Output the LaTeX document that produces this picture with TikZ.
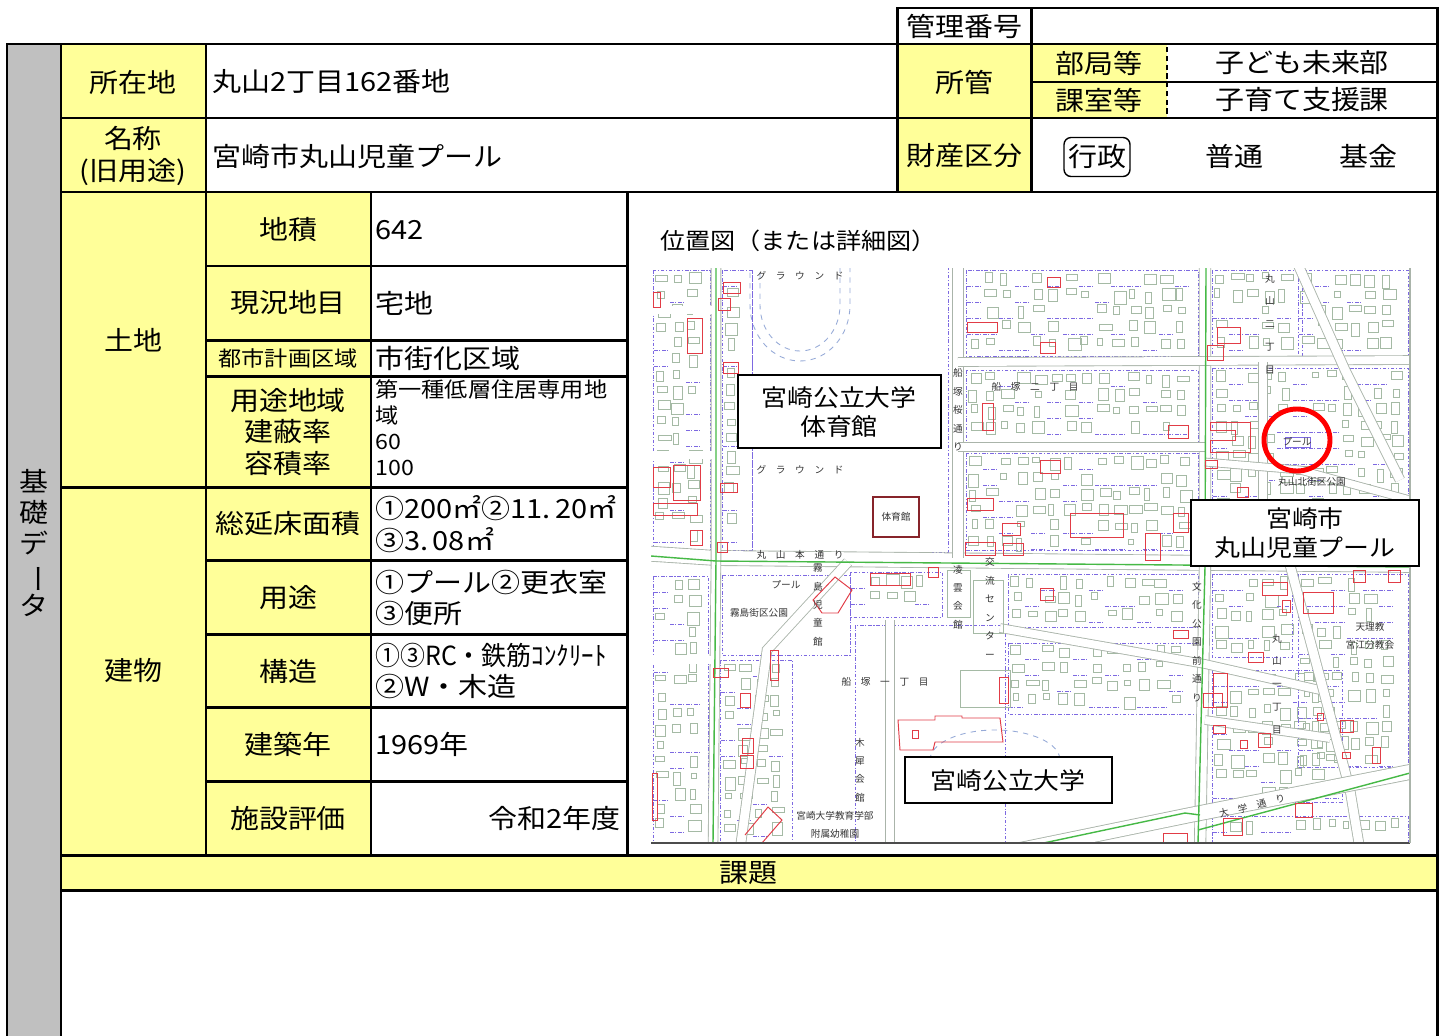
\documentclass[tikz,border=0pt]{standalone}
\usepackage{fontspec}
\setmainfont{Noto Sans CJK JP}[FakeStretch=1.1]
\newfontfamily\mapfont{Noto Sans CJK JP}
\usepackage{tikz}
\usetikzlibrary{calc}
\definecolor{cellyellow}{RGB}{255,255,153}
\definecolor{sidegrey}{RGB}{192,192,192}
\definecolor{housegrey}{RGB}{165,186,165}
\definecolor{roadgrey}{RGB}{170,180,170}
\definecolor{lotpurple}{RGB}{125,105,225}
\definecolor{bldred}{RGB}{225,60,70}
\definecolor{mapgreen}{RGB}{70,185,70}
\definecolor{trackblue}{RGB}{150,170,215}
\tikzset{
  border/.style={line width=1.7pt},
  big/.style={font=\fontsize{15}{18}\selectfont, inner sep=0pt},
  small/.style={font=\fontsize{12}{14.8}\selectfont, inner sep=0pt},
  maptxt/.style={font=\mapfont\fontsize{5.5}{10.5}\selectfont, text=black!80, inner sep=0pt, align=center},
  house/.style={draw=housegrey, line width=0.4pt},
  lot/.style={draw=lotpurple, line width=0.45pt, dash pattern=on 2pt off 1pt on 0.6pt off 1pt},
  road/.style={draw=roadgrey, line width=0.5pt, double=white, double distance=#1},
  road/.default=5pt,
  green/.style={draw=mapgreen, line width=0.8pt},
  redbld/.style={draw=bldred, line width=0.55pt},
  track/.style={draw=trackblue, line width=0.5pt, dashed},
  mapbox/.style={draw=black, line width=1.2pt, fill=white},
  boxtxt/.style={font=\fontsize{13.4}{16.4}\selectfont, inner sep=0pt, align=center}
}
% random block of houses
\newcommand\houses[4]{%
  \draw[lot] (#1-2,#2-2) rectangle (#3+2,#4+2);
  \pgfmathtruncatemacro\mNx{max(0,(#3-#1-12)/16)}%
  \pgfmathtruncatemacro\mNy{max(0,(#4-#2-12)/16)}%
  \foreach \i in {0,...,\mNx}{%
    \foreach \j in {0,...,\mNy}{%
      \pgfmathsetmacro\mHr{rnd}%
      \ifdim\mHr pt>0.28pt
        \pgfmathsetmacro\mHx{#1+16*\i+4*rnd}%
        \pgfmathsetmacro\mHy{#2+16*\j+4*rnd}%
        \pgfmathsetmacro\mHw{5+8*rnd}%
        \pgfmathsetmacro\mHh{5+8*rnd}%
        \draw[house] (\mHx,\mHy) rectangle ++(\mHw,\mHh);
      \fi
      \ifdim\mHr pt<0.3pt
        \draw[lot] (#1+16*\i-1,#2+16*\j+14) -- ++(16,0);
      \fi}}}
\begin{document}
\begin{tikzpicture}[x=0.02cm, y=-0.02cm]
        \useasboundingbox (0,0) rectangle (1444,1035);
        \pgfmathsetseed{21}
        %FILL
        \fill[sidegrey] (7,44) rectangle (61,1040);
        \fill[cellyellow] (61,44) rectangle (206,855);
        \fill[cellyellow] (206,192) rectangle (371,855);
        \fill[cellyellow] (897,44) rectangle (1031,192);
        \fill[cellyellow] (1031,44) rectangle (1167,118);
        \fill[cellyellow] (61,855) rectangle (1437,890);
        %MAP
        \begin{scope}
          \clip (651,268) rectangle (1410,843);
          %HOUSES
          \houses{655}{272}{708}{548}
          \houses{724}{272}{750}{548}
          \houses{968}{272}{1196}{354}
          \houses{968}{372}{1196}{440}
          \houses{968}{455}{1196}{548}
          \houses{1214}{272}{1300}{355}
          \houses{1300}{272}{1406}{355}
          \houses{1214}{370}{1406}{552}
          \houses{655}{578}{706}{840}
          \houses{722}{662}{790}{840}
          \houses{852}{574}{940}{615}
          \houses{1010}{576}{1196}{625}
          \houses{1010}{645}{1196}{712}
          \houses{1214}{576}{1290}{655}
          \houses{1214}{672}{1340}{800}
          \houses{1300}{576}{1406}{765}
          \houses{1214}{818}{1406}{843}
          %GROUND
          \draw[track] (750,262) -- (750,305) arc [start angle=180, end angle=0, x radius=50, y radius=56] -- (850,262);
          \draw[track] (760,262) -- (760,305) arc [start angle=180, end angle=0, x radius=40, y radius=46] -- (840,262);
          \draw[lot] (752,262) rectangle (948,552);
          \draw[lot] (722,575) rectangle (850,655);
          \draw[lot] (855,625) rectangle (1005,843);
          \draw[track] (930,760) arc [start angle=180, end angle=360, x radius=65, y radius=30];
          %ROADS
          \draw[road=8pt] (640,553) -- (716,558) -- (1420,565);
          \draw[road=5pt] (716,260) -- (716,558) -- (713,850);
          \draw[road=6pt] (958,260) -- (958,558);
          \draw[road=6pt] (1205,260) -- (1205,565) -- (1200,850);
          \draw[road=4.5pt] (958,362) -- (1420,360);
          \draw[road=4.5pt] (958,447) -- (1205,447);
          \draw[road=5pt] (1296,260) -- (1345,370) -- (1400,480);
          \draw[road=4.5pt] (1263,362) -- (1263,558);
          \draw[road=4pt] (1205,462) -- (1300,470) -- (1410,500);
          \draw[road=4pt] (651,310) -- (716,310);
          \draw[road=4pt] (651,455) -- (716,455);
          \draw[road=5pt] (848,562) -- (767,650) -- (740,850);
          \draw[road=4.5pt] (890,620) -- (890,850);
          \draw[road=4.5pt] (1000,628) -- (1205,664) -- (1320,690);
          \draw[road=4.5pt] (1205,720) -- (1330,738);
          \draw[road=5pt] (1290,565) -- (1350,790) -- (1360,850);
          \draw[road=4pt] (651,660) -- (716,660);
          \draw[road=8pt] (1020,850) -- (1190,815) -- (1420,770);
          %GREEN
          \draw[green] (716,268) -- (716,560) -- (713,843);
          \draw[green] (651,556) -- (716,561) -- (1410,567);
          \draw[green] (1206,268) -- (1205,567) -- (1198,843);
          \draw[green] (1020,848) -- (1185,813) -- (1200,815);
          \draw[green] (1198,830) -- (1410,773);
          %BUILDINGS
          \foreach \ax/\ay/\bx/\by in {723/282/740/293, 718/298/730/310, 687/318/702/353, 723/362/738/373,
              653/467/670/487, 673/465/700/500, 653/503/697/515, 690/530/702/545, 720/483/737/492,
              717/542/727/552, 967/322/997/332, 982/403/993/430, 967/498/993/510, 1002/523/1020/535,
              965/542/995/555, 1003/543/1023/555, 653/292/660/307, 1047/277/1060/287, 1040/342/1055/353,
              1168/425/1188/438, 1217/327/1240/343, 1207/345/1223/360, 1205/460/1217/468, 1237/487/1248/497,
              1070/513/1123/537, 1145/533/1160/560, 1040/460/1060/473, 1173/513/1188/532, 870/573/910/585,
              928/567/938/577, 713/668/728/677, 770/650/778/680, 740/693/750/707, 742/738/753/753,
              740/755/753/768, 652/773/657/820, 1262/582/1287/595, 1282/600/1290/612, 1303/592/1333/613,
              1353/570/1365/582, 1388/570/1400/582, 1040/588/1053/600, 1173/630/1188/638, 1248/652/1263/662,
              1213/673/1227/707, 1203/693/1222/707, 1213/725/1225/733, 1240/740/1247/748, 1258/733/1270/747,
              1317/713/1323/720, 1340/720/1353/732, 1342/752/1350/758, 1372/747/1380/763, 1295/803/1312/817,
              1223/818/1242/835, 1163/833/1187/843, 999/677/1008/703}
            \draw[redbld] (\ax,\ay) rectangle (\bx,\by);
          \draw[redbld] (1210,422) -- (1250,422) -- (1250,452) -- (1210,452) -- (1210,440) -- (1235,440) -- (1235,430) -- (1210,430) -- cycle;
          \draw[redbld] (813,600) -- (835,577) -- (852,590) -- (838,613) -- (822,613) -- cycle;
          \draw[redbld] (745,835) -- (768,807) -- (782,820) -- (762,843);
          \draw[redbld] (898,720) -- (935,720) -- (935,716) -- (962,716) -- (962,718) -- (1000,718) -- (1003,742) -- (935,742) -- (933,750) -- (900,750) -- cycle;
          \draw[redbld] (912,730) rectangle (918,738);
          \draw[draw=bldred!60!black, line width=0.7pt] (873,497) rectangle (919,537);
          \draw[house] (947,570) rectangle (970,617);
          \draw[house] (973,580) rectangle (1003,633);
          \draw[house] (960,670) rectangle (1010,707);
          \draw[draw=lotpurple] (1285,437) rectangle (1310,447);
          %MAP TEXT
          \node[maptxt] (ground1) at (800,276) {グ　ラ　ウ　ン　ド};
          \node[maptxt] (ground2) at (800,470) {グ　ラ　ウ　ン　ド};
          \node[maptxt] (gymtxt) at (896,517) {体育館};
          \node[maptxt] (honmachi) at (800,555) {丸　山　本　通　り};
          \node[maptxt] (funa2) at (1035,387) {船　塚　二　丁　目};
          \node[maptxt] (sakura) at (958,410) {船\\塚\\桜\\通\\り};
          \node[maptxt, font=\mapfont\fontsize{5.5}{13}\selectfont] (maru2) at (1270,324) {丸\\山\\二\\丁\\目};
          \node[maptxt] (poolsm) at (1297,442) {プール};
          \node[maptxt] (kitapark) at (1312,482) {丸山北街区公園};
          \node[maptxt] (poolsm2) at (786,585) {プール};
          \node[maptxt] (kirishima) at (759,613) {霧島街区公園};
          \node[maptxt] (jidokan) at (818,605) {霧\\島\\児\\童\\館};
          \node[maptxt] (funa1) at (885,682) {船　塚　一　丁　目};
          \node[maptxt] (ryoun) at (958,597) {凌\\雲\\会\\館};
          \node[maptxt] (koryu) at (990,608) {交\\流\\セ\\ン\\タ\\ー};
          \node[maptxt] (bunka) at (1197,642) {文\\化\\公\\園\\前\\通\\り};
          \node[maptxt, font=\mapfont\fontsize{5.5}{13}\selectfont] (maru1) at (1277,684) {丸\\山\\一\\丁\\目};
          \node[maptxt] (tenri) at (1370,636) {天理教\\宮江分教会};
          \node[maptxt] (mokusei) at (860,770) {木\\犀\\会\\館};
          \node[maptxt] (yochien) at (835,825) {宮崎大学教育学部\\附属幼稚園};
          \node[maptxt, rotate=14] (daigaku) at (1252,806) {大　学　通　り};
        \end{scope}
        \draw[black!70, line width=0.8pt] (651,843) -- (1410,843);
        \draw[roadgrey, line width=0.6pt] (1410,268) -- (1410,843);
        %LABEL BOX
        \draw[mapbox] (738,375) rectangle (941,448);
        \node[boxtxt] (gymbox) at (839,412) {宮崎公立大学\\体育館};
        \draw[mapbox] (1191,500) rectangle (1419,566);
        \node[boxtxt] (poolbox) at (1305,533) {宮崎市\\丸山児童プール};
        \draw[mapbox] (905,757) rectangle (1112,803);
        \node[boxtxt] (univbox) at (1008,781) {宮崎公立大学};
        \draw[red, line width=2.8pt] (1297,440) ellipse [x radius=33, y radius=31];
        %LINES
        \draw[border] (897,8) rectangle (1437,44);
        \draw[border] (1031,8) -- (1031,192);
        \draw[border] (7,1040) -- (7,44) -- (1437,44) -- (1437,1040);
        \draw[border] (61,44) -- (61,1040);
        \draw[border] (206,44) -- (206,855);
        \draw[border] (897,44) -- (897,192);
        \draw[border] (371,192) -- (371,855);
        \draw[border] (627,192) -- (627,855);
        \draw[border] (1031,82) -- (1437,82);
        \draw[border] (61,118) -- (1437,118);
        \draw[border] (61,192) -- (1437,192);
        \draw[border] (61,487) -- (627,487);
        \foreach \yy in {266,340,376,560,634,707,781}
          \draw[border] (206,\yy) -- (627,\yy);
        \draw[border] (61,855) -- (1437,855);
        \draw[border] (61,890) -- (1437,890);
        \draw[line width=1pt, dash pattern=on 3pt off 2pt] (1167,47) -- (1167,116);
        %TEXT
        \node[big, align=center, font=\fontsize{15}{17.6}\selectfont] (side) at (34,543) {基\\礎\\デ\\\rotatebox[origin=c]{-90}{ー}\\タ};
        \node[big] (kanri) at (964,26) {管理番号};
        \node[big] (shozai) at (133,82) {所在地};
        \node[big, anchor=west] (address) at (212,82) {丸山2丁目162番地};
        \node[big] (shokan) at (964,82) {所管};
        \node[big] (bukyoku) at (1099,63) {部局等};
        \node[big] (kashitsu) at (1099,100) {課室等};
        \node[big] (bu) at (1302,63) {子ども未来部};
        \node[big] (ka) at (1302,100) {子育て支援課};
        \node[big, align=center] (meisho) at (133,156) {名称\\(旧用途)};
        \node[big, anchor=west] (name) at (212,156) {宮崎市丸山児童プール};
        \node[big] (zaisan) at (964,156) {財産区分};
        \node[big, draw, rounded corners=4pt, line width=0.8pt, minimum width=1.32cm, minimum height=0.78cm] (gyosei) at (1097,157) {行政};
        \node[big] (futsu) at (1234,156) {普通};
        \node[big] (kikin) at (1368,156) {基金};
        \node[big] (tochi) at (133,340) {土地};
        \node[big] (tatemono) at (133,671) {建物};
        \node[big] (chiseki) at (288,230) {地積};
        \node[big, anchor=west] (chisekiv) at (375,230) {642};
        \node[big] (chimoku) at (288,303) {現況地目};
        \node[big, anchor=west] (chimokuv) at (375,303) {宅地};
        \node[small] (toshi) at (288,358) {都市計画区域};
        \node[big, anchor=west] (toshiv) at (375,358) {市街化区域};
        \node[big, align=center] (yoto) at (288,432) {用途地域\\建蔽率\\容積率};
        \node[small, anchor=north west, align=left] (yotov) at (375,379) {第一種低層住居専用地\\域\\60\\100};
        \node[big] (nobe) at (288,524) {総延床面積};
        \node[big, anchor=west, align=left] (nobev) at (375,524) {①200㎡②11.\,20㎡\\③3.\,08㎡};
        \node[big] (yoto2) at (288,598) {用途};
        \node[big, anchor=west, align=left] (yoto2v) at (375,598) {①プール②更衣室\\③便所};
        \node[big] (kozo) at (288,671) {構造};
        \node[big, anchor=west, align=left] (kozov) at (375,671) {\scalebox{0.86}[1]{①③RC・鉄筋ｺﾝｸﾘｰﾄ}\\②W・木造};
        \node[big] (nendai) at (288,744) {建築年};
        \node[big, anchor=west] (nendaiv) at (375,744) {1969年};
        \node[big] (hyoka) at (288,818) {施設評価};
        \node[big, anchor=east] (hyokav) at (621,818) {令和2年度};
        \node[font=\fontsize{13}{15}\selectfont, anchor=west, inner sep=0pt] (ichizu) at (660,241) {位置図（または詳細図）};
        \node[big] (kadai) at (748,873) {課題};
\end{tikzpicture}
\end{document}
